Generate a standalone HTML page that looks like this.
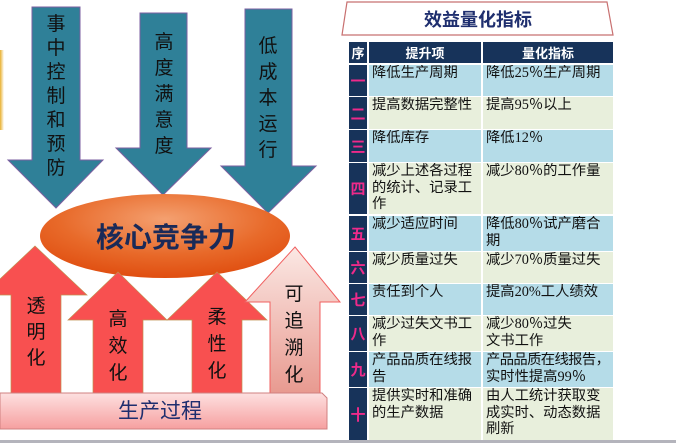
<!DOCTYPE html>
<html><head><meta charset="utf-8"><style>
html,body{margin:0;padding:0;background:#fff;width:676px;height:443px;overflow:hidden}
svg{display:block}
.cj{font-family:"Liberation Sans","Noto Sans CJK SC",sans-serif}
.cell{position:absolute;font-family:"Liberation Serif","Noto Sans CJK SC",serif;font-size:14.3px;line-height:16.5px;color:#111;box-sizing:border-box;padding:0 1px 0 3px;overflow:hidden;white-space:nowrap}
.seq{position:absolute;background:#17335a;color:#ee2a8a;font-family:"Liberation Sans","Noto Sans CJK SC",sans-serif;font-weight:bold;font-size:15px;display:flex;align-items:center;justify-content:center}
.hd{position:absolute;background:#17335a;color:#fff;font-family:"Liberation Sans","Noto Sans CJK SC",sans-serif;font-weight:bold;font-size:13px;display:flex;align-items:center;justify-content:center}
</style></head><body>
<div style="position:relative;width:676px;height:443px">
<svg width="676" height="443" style="position:absolute;left:0;top:0">
<defs>
<radialGradient id="ell" cx="50%" cy="30%" r="70%">
<stop offset="0" stop-color="#f4a070"/><stop offset="0.6" stop-color="#e86a2a"/><stop offset="1" stop-color="#e04e10"/></radialGradient>
<linearGradient id="pk" x1="0" y1="0" x2="0" y2="1"><stop offset="0" stop-color="#fbe8e4"/><stop offset="1" stop-color="#e89a90"/></linearGradient>
<linearGradient id="bar" x1="0" y1="0" x2="0" y2="1"><stop offset="0" stop-color="#fde0e0"/><stop offset="1" stop-color="#f6a0a0"/></linearGradient>
<linearGradient id="yl" x1="0" y1="0" x2="1" y2="0"><stop offset="0" stop-color="#e8b030"/><stop offset="1" stop-color="#fff"/></linearGradient>
</defs>
<rect x="0" y="50" width="4" height="80" fill="url(#yl)"/>
<g fill="#2f8098" stroke="#7b5fa0" stroke-width="1">
<polygon points="32,7 80,7 80,160 103,160 56,208 8,160 32,160"/>
<polygon points="140,13 187,13 187,148 211,148 163,195 116,148 140,148"/>
<polygon points="245,9 292,9 292,166 316,166 268,213 221,166 245,166"/>
</g>
<g class="cj" font-size="19" fill="#111" text-anchor="middle">
<text x="56" y="30">事</text><text x="56" y="54">中</text><text x="56" y="78">控</text><text x="56" y="102">制</text><text x="56" y="126">和</text><text x="56" y="150">预</text><text x="56" y="174">防</text>
<text x="164" y="48">高</text><text x="164" y="74">度</text><text x="164" y="100">满</text><text x="164" y="126">意</text><text x="164" y="152">度</text>
<text x="268" y="52">低</text><text x="268" y="78">成</text><text x="268" y="104">本</text><text x="268" y="130">运</text><text x="268" y="156">行</text>
</g>
<ellipse cx="165" cy="236" rx="125" ry="42" fill="url(#ell)"/>
<text x="166" y="247" class="cj" font-size="28" font-weight="bold" fill="#1a2a58" text-anchor="middle">核心竞争力</text>
<g fill="#f85050" stroke="#c09050" stroke-width="0.7">
<polygon points="35,246 87,295 61,295 61,393 11,393 11,295 -17,295"/>
<polygon points="118,272 167,320 143,320 143,393 93,393 93,320 68,320"/>
<polygon points="217,272 267,320 242,320 242,393 192,393 192,320 167,320"/>
</g>
<polygon points="295,247 340,302 320,302 320,393 270,393 270,302 245,302" fill="url(#pk)" stroke="#f06060" stroke-width="1"/>
<g class="cj" font-size="19" fill="#111" text-anchor="middle">
<text x="36" y="312">透</text><text x="36" y="338">明</text><text x="36" y="364">化</text>
<text x="118" y="325">高</text><text x="118" y="352">效</text><text x="118" y="379">化</text>
<text x="217" y="323">柔</text><text x="217" y="350">性</text><text x="217" y="377">化</text>
<text x="294" y="300">可</text><text x="294" y="327">追</text><text x="294" y="354">溯</text><text x="294" y="381">化</text>
</g>
<path d="M0,393 L322,393 L327,398 L327,429 L0,429 Z" fill="url(#bar)" stroke="#d08080" stroke-width="1"/>
<text x="160" y="418" class="cj" font-size="21" fill="#1e2e6e" text-anchor="middle">生产过程</text>
<polygon points="347,2 607,2 613,35 342,35" fill="#fff" stroke="#c87070" stroke-width="1.2"/>
<text x="478" y="26" class="cj" font-size="18" font-weight="bold" fill="#1e2e6e" text-anchor="middle">效益量化指标</text>
<rect x="349" y="42" width="264" height="398" fill="#fff"/>
<rect x="0" y="440" width="676" height="3" fill="#b4b4bc"/>
</svg>
<div class="hd" style="left:349px;top:42px;width:18px;height:21px">序</div>
<div class="hd" style="left:369px;top:42px;width:112px;height:21px">提升项</div>
<div class="hd" style="left:483px;top:42px;width:130px;height:21px">量化指标</div>

<div class="seq" style="left:349px;top:65px;width:18px;height:31px">一</div>
<div class="cell" style="left:369px;top:65px;width:112px;height:31px;background:#b5dce8">降低生产周期</div>
<div class="cell" style="left:483px;top:65px;width:130px;height:31px;background:#b5dce8">降低25％生产周期</div>

<div class="seq" style="left:349px;top:97px;width:18px;height:32px">二</div>
<div class="cell" style="left:369px;top:97px;width:112px;height:32px;background:#e8efdc">提高数据完整性</div>
<div class="cell" style="left:483px;top:97px;width:130px;height:32px;background:#e8efdc">提高95％以上</div>

<div class="seq" style="left:349px;top:130px;width:18px;height:32px">三</div>
<div class="cell" style="left:369px;top:130px;width:112px;height:32px;background:#b5dce8">降低库存</div>
<div class="cell" style="left:483px;top:130px;width:130px;height:32px;background:#b5dce8">降低12％</div>

<div class="seq" style="left:349px;top:163px;width:18px;height:51px">四</div>
<div class="cell" style="left:369px;top:163px;width:112px;height:51px;background:#e8efdc">减少上述各过程<br>的统计、记录工<br>作</div>
<div class="cell" style="left:483px;top:163px;width:130px;height:51px;background:#e8efdc">减少80％的工作量</div>

<div class="seq" style="left:349px;top:216px;width:18px;height:35px">五</div>
<div class="cell" style="left:369px;top:216px;width:112px;height:35px;background:#b5dce8">减少适应时间</div>
<div class="cell" style="left:483px;top:216px;width:130px;height:35px;background:#b5dce8">降低80％试产磨合<br>期</div>

<div class="seq" style="left:349px;top:252px;width:18px;height:31px">六</div>
<div class="cell" style="left:369px;top:252px;width:112px;height:31px;background:#e8efdc">减少质量过失</div>
<div class="cell" style="left:483px;top:252px;width:130px;height:31px;background:#e8efdc">减少70％质量过失</div>

<div class="seq" style="left:349px;top:284px;width:18px;height:31px">七</div>
<div class="cell" style="left:369px;top:284px;width:112px;height:31px;background:#b5dce8">责任到个人</div>
<div class="cell" style="left:483px;top:284px;width:130px;height:31px;background:#b5dce8">提高20%工人绩效</div>

<div class="seq" style="left:349px;top:316px;width:18px;height:35px">八</div>
<div class="cell" style="left:369px;top:316px;width:112px;height:35px;background:#e8efdc">减少过失文书工<br>作</div>
<div class="cell" style="left:483px;top:316px;width:130px;height:35px;background:#e8efdc">减少80％过失<br>文书工作</div>

<div class="seq" style="left:349px;top:352px;width:18px;height:35px">九</div>
<div class="cell" style="left:369px;top:352px;width:112px;height:35px;background:#b5dce8">产品品质在线报<br>告</div>
<div class="cell" style="left:483px;top:352px;width:130px;height:35px;background:#b5dce8"><span style="letter-spacing:-0.6px">产品品质在线报告，</span><br>实时性提高99％</div>

<div class="seq" style="left:349px;top:388px;width:18px;height:52px">十</div>
<div class="cell" style="left:369px;top:388px;width:112px;height:52px;background:#e8efdc">提供实时和准确<br>的生产数据</div>
<div class="cell" style="left:483px;top:388px;width:130px;height:52px;background:#e8efdc">由人工统计获取变<br>成实时、动态数据<br>刷新</div>
</div>
</body></html>
